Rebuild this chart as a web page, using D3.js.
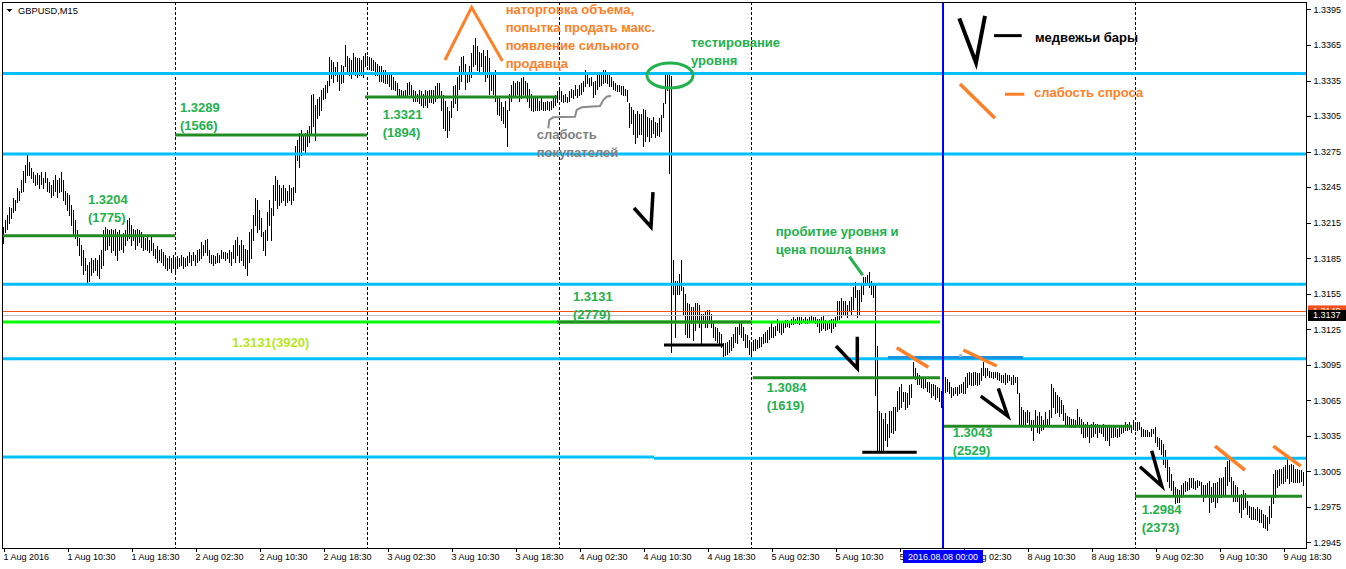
<!DOCTYPE html>
<html>
<head>
<meta charset="utf-8">
<script src="https://cdn.jsdelivr.net/npm/d3@7"></script>
<style>
  body { margin: 0; background: #fff; }
  svg { display: block; }
</style>
</head>
<body>
<svg id="chart" width="1346" height="569"></svg>
<script>
// GBPUSD M15, 1–9 Aug 2016. Bar extremes in pips above BASE.
const BASE = 1.2900;
const barHighs = [
  311,317,321,328,327,336,334,344,342,351, 359,364,372,366,361,358,355,357,355,358,
  353,358,353,349,347,351,355,351,353,358, 351,342,340,338,330,326,317,309,302,296,
  292,285,279,282,285,283,285,283,288,292, 309,311,310,309,310,309,310,307,309,304,
  306,309,317,319,313,310,309,310,309,307, 304,302,304,300,304,298,293,295,292,293,
  290,288,285,287,285,288,285,287,285,288, 286,285,287,290,288,290,288,292,293,299,
  296,300,301,292,288,288,287,289,288,292, 290,290,289,292,290,296,300,303,296,300,
  296,293,292,307,310,321,336,334,326,319, 307,309,324,334,327,347,354,351,347,344,
  347,344,342,347,344,345,380,385,391,393, 389,391,393,397,423,424,414,419,421,427,
  429,431,435,455,452,451,446,451,442,448, 447,465,456,454,452,458,455,454,454,452,
  456,458,456,455,454,452,451,449,447,447, 444,444,442,440,441,438,435,433,428,427,
  426,427,433,434,431,427,426,424,427,426, 424,427,426,427,427,427,430,433,433,426,
  423,418,413,409,418,430,431,438,447,455, 456,449,440,447,458,465,471,464,459,458,
  461,456,461,454,441,440,444,421,420,417, 413,418,410,424,431,435,433,435,434,437,
  438,435,433,428,424,420,421,420,418,420, 417,417,418,417,418,420,423,426,427,426,
  423,424,421,426,428,427,431,428,431,433, 435,444,441,437,438,434,435,440,442,440,
  444,444,442,440,438,435,433,431,431,430, 430,428,427,416,413,410,407,409,407,
  407,411,410,404,403,402,404,400,399,403,406, 416,440,441,441,439,
  283,266,266,272,283,261,255,247,246,244, 244,247,247,245,238,238,240,241,241,238,
  230,227,226,223,221,213,213,214,216,218, 221,227,227,232,230,227,221,220,216,214,
  216,217,216,218,218,221,223,224,227,230, 227,228,234,231,230,231,233,233,231,234,
  235,234,235,235,
  235,234,235,234,235,237,235,235,234,234, 235,237,233,231,233,234,234,235,249,249,
  251,249,249,245,249,252,261,265,258,258, 264,269,269,271,273,266,264,264,211,156,
  154,149,154,145,156,156,159,159,173,176, 179,172,172,171,178,179,197,192,188,186,
  183,185,183,180,180,179,179,178,176,175,173,173,
  185,183,180,176,175,176,176,178,179,180, 185,188,189,188,189,189,188,188,192,197,
  192,192,190,189,189,189,189,188,186,186, 188,186,186,185,186,185,185,171,159,157,
  155,157,155,148,148,157,152,155,152,148, 155,149,157,179,175,172,169,168,165,161,
  154,152,151,149,149,148,158,151,149,147, 145,147,144,145,147,145,145,144,144,145,
  144,142,142,144,142,142,141,144,142,144, 147,145,147,144,148,147,147,147,
  142,141,140,140,138,141,141,142,134,133, 131,128,123,116,109,103,97,92,90,89,
  93,95,97,96,99,99,99,97,98,97, 96,93,93,95,97,92,95,95,96,99,
  99,100,109,114,116,100,97,93,92,85, 86,89,87,80,76,75,75,73,75,73,
  72,69,68,66,76,83,103,106,106,107, 107,109,110,115,110,111,110,107,107,106,106,104
];
const barLows = [
  298,307,310,315,319,324,326,332,334,341, 342,349,355,355,353,349,347,348,344,348,
  344,349,342,341,337,338,342,337,341,342, 334,331,326,321,313,304,302,296,288,279,
  272,275,264,266,271,273,275,271,268,277, 279,292,293,296,290,292,288,283,292,293,
  290,296,300,302,296,300,293,296,299,294, 292,293,292,290,292,288,285,282,283,282,
  279,277,275,277,273,277,273,277,278,279, 277,278,279,282,279,283,279,282,283,285,
  288,290,288,282,281,279,281,282,282,285, 285,283,285,282,279,285,282,288,282,283,
  279,277,271,282,285,300,313,307,310,304, 292,288,300,313,300,321,334,327,330,332,
  334,330,332,334,331,334,341,368,362,372, 376,375,380,383,389,397,385,403,406,410,
  419,420,425,431,437,434,440,435,427,433, 434,447,442,440,437,442,440,438,440,440,
  438,447,448,445,444,444,440,440,435,435, 434,433,433,430,428,428,427,423,421,421,
  421,423,423,424,421,418,418,418,416,414, 413,414,413,417,417,416,418,420,421,410,
  395,393,387,393,404,413,416,410,428,435, 442,428,434,435,438,447,449,444,442,447,
  441,435,438,424,427,424,418,407,406,402, 399,396,380,410,418,421,421,424,418,420,
  424,421,418,413,410,409,410,410,410,411, 410,410,411,410,411,413,414,417,420,418,
  417,418,417,418,421,420,423,421,423,424, 426,430,433,430,431,421,424,428,430,431,
  433,434,433,430,430,428,427,426,426,424, 423,423,418,396,399,390,382,387,390,
  390,380,384,388,384,387,391,387,389,388,392, 404,416,427,357,206,
  255,218,255,255,258,238,221,218,218,230, 216,224,233,227,213,230,227,227,230,227,
  218,216,214,213,210,202,203,204,206,207, 210,214,213,221,218,216,210,210,204,202,
  207,207,209,210,211,213,214,214,217,218, 218,220,224,223,221,223,227,228,227,229,
  229,230,230,229,
  230,231,230,230,232,231,231,230,228,223, 224,226,224,225,226,223,226,228,233,234,
  235,238,237,235,240,238,242,252,235,238, 249,255,262,264,261,255,252,169,123,121,
  123,123,131,126,134,138,137,140,156,158, 159,164,158,159,162,168,185,183,179,179,
  176,175,176,173,172,168,169,166,168,164,159,161,
  172,173,171,168,169,171,169,171,172,171, 171,176,179,178,178,179,178,179,182,186,
  185,186,185,185,184,185,183,182,180,180, 179,180,182,179,179,180,171,145,143,145,
  143,147,144,140,131,143,138,137,140,141, 144,143,145,151,159,154,155,152,154,148,
  144,144,142,142,142,142,144,142,137,134, 134,135,130,134,135,137,134,138,137,135,
  131,131,127,134,134,135,134,135,137,138, 140,140,141,138,141,140,140,141,
  135,135,135,135,135,135,137,130,126,124, 120,111,109,97,92,89,85,78,79,79,
  83,86,88,89,90,92,91,90,92,93, 86,80,83,85,71,79,80,75,79,83,
  83,85,86,93,97,86,80,80,80,71, 66,73,75,69,66,65,65,65,64,62,
  62,58,57,55,61,66,78,83,92,93, 95,95,97,99,95,97,96,96,96,96,97,93
];

// Price scale labels and time labels (one every 32 bars)
const priceTicks = [1.3395,1.3365,1.3335,1.3305,1.3275,1.3245,1.3215,1.3185,
                    1.3155,1.3125,1.3095,1.3065,1.3035,1.3005,1.2975,1.2945];
const timeLabels = ["1 Aug 2016","1 Aug 10:30","1 Aug 18:30","2 Aug 02:30","2 Aug 10:30",
  "2 Aug 18:30","3 Aug 02:30","3 Aug 10:30","3 Aug 18:30","4 Aug 02:30","4 Aug 10:30",
  "4 Aug 18:30","5 Aug 02:30","5 Aug 10:30","5 Aug 18:30","8 Aug 02:30","8 Aug 10:30",
  "8 Aug 18:30","9 Aug 02:30","9 Aug 10:30","9 Aug 18:30"];
const timeLabelStep = 32;
const daySeparators = [86, 182, 278, 374, 470, 566];
const weekOpenBar = 470;
const weekOpenLabel = "2016.08.08 00:00";
const bidPrice = 1.3137;
const askPrice = 1.3140;

// Support / resistance levels
const srPrice = [1.3341, 1.3273, 1.3163, 1.3100, 1.3017, 1.3016];
const srFrom  = [-0.5, -0.5, -0.5, -0.5, -0.5, 325.5];
const srTo    = [651.5, 651.5, 651.5, 651.5, 325.5, 651.5];

// Daily volume levels (price, volume)
const volPrice = [1.3204, 1.3289, 1.3321, 1.3131, 1.3084, 1.3043, 1.2984];
const volCount = [1775, 1566, 1894, 2779, 1619, 2529, 2373];
const volFrom  = [-0.5, 86, 181, 277, 374.85, 469.85, 566];
const volTo    = [86, 182, 277, 374.35, 468.5, 564.35, 649.5];
// Weekly volume level
const weekPrice = 1.3131;
const weekCount = 3920;

// ---------- layout ----------
const W = 1346, H = 569;
const plot = { left: 2, right: 1306, top: 2, bottom: 548 };
const GREEN = "#22B14C", ORANGE = "#FF7F27", GREY = "#7F7F7F";
const FONT = "'Liberation Sans', Arial, sans-serif";

const svg = d3.select("#chart");
svg.append("rect").attr("width", W).attr("height", H).attr("fill", "#fff");

const x = d3.scaleLinear().domain([-0.5, 651.5]).range([plot.left, plot.right]);
const y = d3.scaleLinear().domain([1.29402, 1.34013]).range([plot.bottom, plot.top]);
const px = p => BASE + p / 10000;
const line = d3.line().x(d => x(d[0])).y(d => y(d[1]));

// day separators
svg.append("g").selectAll("line").data(daySeparators).join("line")
  .attr("x1", d => Math.round(x(d)) + 0.5).attr("x2", d => Math.round(x(d)) + 0.5)
  .attr("y1", plot.top).attr("y2", plot.bottom)
  .attr("stroke", "#000").attr("stroke-width", 1).attr("stroke-dasharray", "3,2")
  .attr("shape-rendering", "crispEdges");

// bars (high-low)
svg.append("g").attr("shape-rendering", "crispEdges")
  .selectAll("line").data(d3.range(barHighs.length)).join("line")
  .attr("x1", i => Math.round(x(i)) + 0.5).attr("x2", i => Math.round(x(i)) + 0.5)
  .attr("y1", i => Math.round(y(px(barHighs[i]))))
  .attr("y2", i => Math.round(y(px(barLows[i]))) + 1)
  .attr("stroke", "#000").attr("stroke-width", 1);

// ask / bid lines
svg.append("line").attr("x1", plot.left).attr("x2", plot.right)
  .attr("y1", Math.round(y(askPrice)) + 0.5).attr("y2", Math.round(y(askPrice)) + 0.5)
  .attr("stroke", "#F0501E").attr("stroke-width", 1);
svg.append("line").attr("x1", plot.left).attr("x2", plot.right)
  .attr("y1", Math.round(y(bidPrice)) + 0.5).attr("y2", Math.round(y(bidPrice)) + 0.5)
  .attr("stroke", "#C0C0C0").attr("stroke-width", 1);

// support / resistance
svg.append("g").selectAll("line").data(srPrice).join("line")
  .attr("x1", (d, i) => x(srFrom[i])).attr("x2", (d, i) => x(srTo[i]))
  .attr("y1", d => y(d)).attr("y2", d => y(d))
  .attr("stroke", "#00BFFF").attr("stroke-width", 3);
// short retest segment on 1.3100
svg.append("line").attr("x1", x(442.5)).attr("x2", x(510))
  .attr("y1", y(1.3101)).attr("y2", y(1.3101))
  .attr("stroke", "#1A93E2").attr("stroke-width", 3);
svg.append("rect").attr("x", x(478.85) - 1.5).attr("y", y(1.31029) - 1.5)
  .attr("width", 3).attr("height", 3).attr("fill", "#B8B8B8");

// weekly volume level
svg.append("line").attr("x1", x(-0.5)).attr("x2", x(468.5))
  .attr("y1", y(weekPrice)).attr("y2", y(weekPrice))
  .attr("stroke", "#00FF00").attr("stroke-width", 3);

// daily volume levels
svg.append("g").selectAll("line").data(volPrice).join("line")
  .attr("x1", (d, i) => x(volFrom[i])).attr("x2", (d, i) => x(volTo[i]))
  .attr("y1", d => y(d)).attr("y2", d => y(d))
  .attr("stroke", "#228B22").attr("stroke-width", 3);

// week open marker
svg.append("line").attr("x1", x(weekOpenBar)).attr("x2", x(weekOpenBar))
  .attr("y1", plot.top).attr("y2", plot.bottom)
  .attr("stroke", "#0000FF").attr("stroke-width", 2);

// ---------- annotations ----------
const ann = svg.append("g").attr("fill", "none");
const strokePath = (pts, color, w) =>
  ann.append("path").attr("d", line(pts)).attr("stroke", color)
     .attr("stroke-width", w).attr("stroke-linejoin", "miter").attr("stroke-linecap", "butt");

// selling climax peak
strokePath([[221, 1.33523], [234.3, 1.33968], [249.7, 1.33515]], ORANGE, 3);
// weak demand strokes
[
  [[446.85, 1.31093], [462.65, 1.30928]],
  [[480.15, 1.31074], [496.85, 1.30939]],
  [[606, 1.30263], [621, 1.3006]],
  [[635.15, 1.30263], [648.85, 1.30094]],
  [[478.5, 1.3332], [496, 1.33031]]
].forEach(p => strokePath(p, ORANGE, 3.5));
strokePath([[501, 1.33234], [510.65, 1.33234]], ORANGE, 3);

// bearish bar marks
[
  [[315.5, 1.32273], [324, 1.32113], [325, 1.32408]],
  [[416.5, 1.31108], [427.15, 1.30919], [427.15, 1.31186]],
  [[488.85, 1.30685], [502.35, 1.30517], [497.65, 1.3075]],
  [[568.5, 1.30088], [579.35, 1.29925], [574.35, 1.30223]]
].forEach(p => strokePath(p, "#000", 3.5));
strokePath([[478.15, 1.33875], [486.5, 1.335], [491, 1.33895]], "#000", 4);
strokePath([[495.5, 1.33729], [509.35, 1.33729]], "#000", 3);

// lows after the drops
strokePath([[330.5, 1.31116], [360, 1.31116]], "#000", 3);
strokePath([[429.65, 1.3021], [456.85, 1.3021]], "#000", 3);

// breakout pointer
strokePath([[423.15, 1.31862], [429.85, 1.31707]], GREEN, 3);

// buyers weakening staircase
strokePath([[272.65, 1.32946], [273.15, 1.33017], [275.15, 1.33039], [286, 1.33044],
            [286.85, 1.33101], [289.35, 1.33124], [298.5, 1.33135], [300.15, 1.33185],
            [301.85, 1.33213], [304, 1.33222]], "#8C8C8C", 2);

// level test ellipse
ann.append("ellipse")
  .attr("cx", x(333.5)).attr("cy", y(1.33392))
  .attr("rx", x(345) - x(333.5)).attr("ry", y(1.33392 - 0.00106) - y(1.33392))
  .attr("stroke", GREEN).attr("stroke-width", 3);

// ---------- texts ----------
const txt = svg.append("g").attr("font-family", FONT).attr("font-weight", "bold").attr("font-size", 13);
const note = (lines, bar, price, color, gap = 17.8) =>
  lines.forEach((t, k) => txt.append("text")
    .attr("x", x(bar)).attr("y", y(price) + k * gap)
    .attr("dominant-baseline", "central").attr("fill", color).text(t));

volPrice.forEach((p, i) => {
  const at = [[42.5, 1.32341], [88.5, 1.33126], [189.85, 1.33067], [285, 1.31524],
              [381.85, 1.30759], [474.85, 1.30375], [569.35, 1.29723]][i];
  note([d3.format(".4f")(p), "(" + volCount[i] + ")"], at[0], at[1], GREEN, 18);
});
note([d3.format(".4f")(weekPrice) + "(" + weekCount + ")"], 114.5, 1.31141, "#B5E61D");

note(["наторговка объема,", "попытка продать макс.", "появление сильного", "продавца"],
     251.35, 1.33946, ORANGE, 17.8);
note(["слабость", "покупателей"], 266.85, 1.3289, GREY, 17.7);
note(["тестирование", "уровня"], 344, 1.33673, GREEN, 18.7);
note(["пробитие уровня и", "цена пошла вниз"], 386.35, 1.32079, GREEN, 18.3);
note(["медвежьи бары"], 516, 1.33712, "#000");
note(["слабость спроса"], 515.5, 1.33247, ORANGE);

// ---------- frame & axes ----------
svg.append("rect").attr("x", plot.left + 0.5).attr("y", plot.top + 0.5)
  .attr("width", plot.right - plot.left).attr("height", plot.bottom - plot.top)
  .attr("fill", "none").attr("stroke", "#000").attr("shape-rendering", "crispEdges");

const yAxis = svg.append("g").attr("transform", `translate(${plot.right + 0.5},0)`)
  .call(d3.axisRight(y).tickValues(priceTicks).tickSize(4).tickPadding(3)
        .tickFormat(d3.format(".4f")));
yAxis.select(".domain").remove();
yAxis.selectAll("text").attr("font-family", FONT).attr("font-size", 9).attr("fill", "#000");
yAxis.selectAll("line").attr("shape-rendering", "crispEdges");

const labelBars = timeLabels.map((d, i) => i * timeLabelStep);
const xAxis = svg.append("g").attr("transform", `translate(0,${plot.bottom + 0.5})`)
  .call(d3.axisBottom(x).tickValues(labelBars).tickSize(3).tickPadding(3)
        .tickFormat((d, i) => timeLabels[i]));
xAxis.select(".domain").remove();
xAxis.selectAll(".tick line").attr("transform", "translate(0.5,0)").attr("shape-rendering", "crispEdges");
xAxis.selectAll("text").attr("font-family", FONT).attr("font-size", 9).attr("fill", "#000")
  .attr("text-anchor", "start").attr("x", 0).attr("y", 5);

// week open label
const wx = x(weekOpenBar);
svg.append("rect").attr("x", wx - 40).attr("y", 550).attr("width", 80).attr("height", 13).attr("fill", "#0000FF");
svg.append("text").attr("x", wx).attr("y", 556.5).attr("dominant-baseline", "central")
  .attr("text-anchor", "middle").attr("font-family", FONT).attr("font-size", 9)
  .attr("fill", "#fff").text(weekOpenLabel);

// ask / bid price tags
svg.append("rect").attr("x", plot.right + 2).attr("y", y(askPrice) - 6).attr("width", W - plot.right - 2)
  .attr("height", 12).attr("fill", "#F0501E");
svg.append("text").attr("x", plot.right + 7).attr("y", y(askPrice)).attr("dominant-baseline", "central")
  .attr("font-family", FONT).attr("font-size", 9).attr("fill", "#fff").text(d3.format(".4f")(askPrice));
svg.append("rect").attr("x", plot.right + 2).attr("y", y(bidPrice) - 5).attr("width", W - plot.right - 2)
  .attr("height", 11).attr("fill", "#000");
svg.append("text").attr("x", plot.right + 7).attr("y", y(bidPrice) + 0.5).attr("dominant-baseline", "central")
  .attr("font-family", FONT).attr("font-size", 9).attr("fill", "#fff").text(d3.format(".4f")(bidPrice));

// symbol header
svg.append("path").attr("d", "M6.5,9 L12.5,9 L9.5,12 Z").attr("fill", "#000");
svg.append("text").attr("x", 18).attr("y", 10.5).attr("dominant-baseline", "central")
  .attr("font-family", FONT).attr("font-size", 9.3).attr("fill", "#000").text("GBPUSD,M15");
</script>
</body>
</html>
